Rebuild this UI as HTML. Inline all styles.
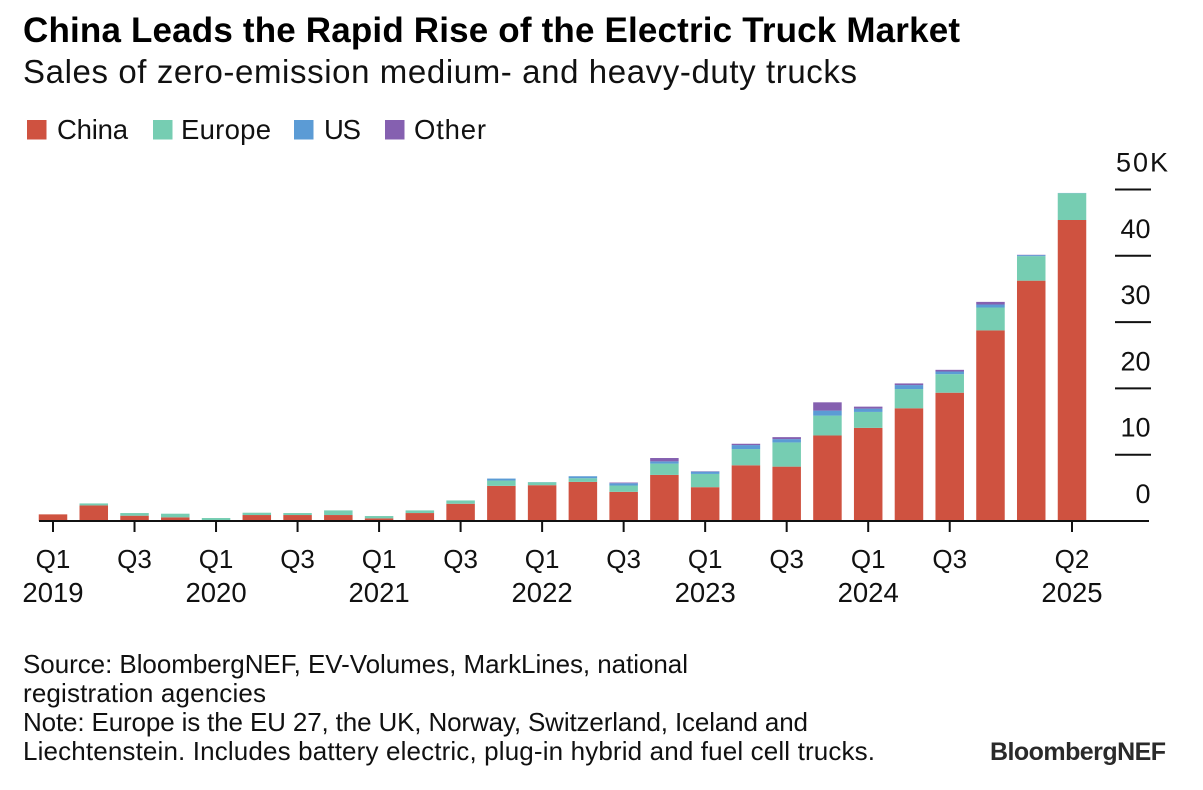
<!DOCTYPE html>
<html lang="en">
<head>
<meta charset="utf-8">
<title>China Leads the Rapid Rise of the Electric Truck Market</title>
<style>
  html, body { margin: 0; padding: 0; background: #fff; }
  body { width: 1203px; height: 790px; overflow: hidden; }
  svg { display: block; font-family: "Liberation Sans", Arial, sans-serif; fill: #111; }
  .title { font-size: 35px; font-weight: 700; fill: #000; }
  .sub { font-size: 33px; }
  .leg { font-size: 27.5px; }
  .foot { font-size: 26px; }
  .tick { font-size: 26px; }
  .logo { font-size: 25px; font-weight: 700; fill: #2a2a2a; }
</style>
</head>
<body>
<svg id="chart" width="1203" height="790" viewBox="0 0 1203 790" xmlns="http://www.w3.org/2000/svg">
  <text class="title" x="23" y="42" textLength="937" lengthAdjust="spacing">China Leads the Rapid Rise of the Electric Truck Market</text>
  <text class="sub" x="23" y="83" textLength="834" lengthAdjust="spacing">Sales of zero-emission medium- and heavy-duty trucks</text>

  <g>
    <g>
      <rect x="27" y="120" width="19.5" height="19.5" fill="#cf5240"/>
      <text class="leg" x="57" y="139" textLength="71" lengthAdjust="spacing">China</text>
    </g>
    <g>
      <rect x="153" y="120" width="19.5" height="19.5" fill="#76cdb2"/>
      <text class="leg" x="181" y="139" textLength="90" lengthAdjust="spacing">Europe</text>
    </g>
    <g>
      <rect x="294" y="120" width="19.5" height="19.5" fill="#5b9bd5"/>
      <text class="leg" x="324" y="139" textLength="37" lengthAdjust="spacing">US</text>
    </g>
    <g>
      <rect x="385" y="120" width="19.5" height="19.5" fill="#8560b0"/>
      <text class="leg" x="414" y="139" textLength="72" lengthAdjust="spacing">Other</text>
    </g>
  </g>

  <g id="bars"></g>
  <g id="y-axis"></g>
  <g id="x-axis"></g>

  <g>
    <text class="foot" x="23" y="673" textLength="665" lengthAdjust="spacing">Source: BloombergNEF, EV-Volumes, MarkLines, national</text>
    <text class="foot" x="23" y="702" textLength="243" lengthAdjust="spacing">registration agencies</text>
    <text class="foot" x="23" y="731" textLength="785" lengthAdjust="spacing">Note: Europe is the EU 27, the UK, Norway, Switzerland, Iceland and</text>
    <text class="foot" x="23" y="760" textLength="852" lengthAdjust="spacing">Liechtenstein. Includes battery electric, plug-in hybrid and fuel cell trucks.</text>
  </g>
  <text class="logo" x="990" y="760" textLength="176" lengthAdjust="spacing">BloombergNEF</text>
</svg>

<script>
const quarters = ["2019Q1","2019Q2","2019Q3","2019Q4","2020Q1","2020Q2","2020Q3","2020Q4","2021Q1","2021Q2","2021Q3","2021Q4","2022Q1","2022Q2","2022Q3","2022Q4","2023Q1","2023Q2","2023Q3","2023Q4","2024Q1","2024Q2","2024Q3","2024Q4","2025Q1","2025Q2"];
const china  = [1.0,2.35,0.8,0.55,0.1,0.9,0.9,0.9,0.4,1.2,2.6,5.3,5.4,5.9,4.4,6.95,5.1,8.4,8.2,12.9,14.05,17.0,19.35,28.75,36.25,45.4];
const europe = [0,0.3,0.4,0.55,0.35,0.35,0.3,0.7,0.35,0.4,0.5,0.8,0.45,0.55,0.95,1.7,2.0,2.45,3.65,3.0,2.4,2.9,2.8,3.45,3.7,4.05];
const us     = [0,0,0,0,0,0,0,0,0,0,0,0.3,0.02,0.3,0.35,0.35,0.35,0.6,0.5,0.75,0.5,0.6,0.4,0.45,0.15,0.03];
const other  = [0,0,0,0,0,0,0,0,0,0,0,0,0,0,0.1,0.5,0.05,0.2,0.3,1.25,0.3,0.25,0.25,0.4,0.05,0];
const yTickValues = [0,10,20,30,40,50];
const yTickLabels = ["0","10","20","30","40","50K"];
const xTickQuarters = ["2019Q1","2019Q3","2020Q1","2020Q3","2021Q1","2021Q3","2022Q1","2022Q3","2023Q1","2023Q3","2024Q1","2024Q3","2025Q2"];
const xTickLabels = ["Q1","Q3","Q1","Q3","Q1","Q3","Q1","Q3","Q1","Q3","Q1","Q3","Q2"];
const yearQuarters = ["2019Q1","2020Q1","2021Q1","2022Q1","2023Q1","2024Q1","2025Q2"];
const yearLabels = ["2019","2020","2021","2022","2023","2024","2025"];

const NS = "http://www.w3.org/2000/svg";
const xScale = function (q) { return 53 + quarters.indexOf(q) * 40.76; };
const yScale = function (v) { return 521 - v * 6.63; };
const barWidth = 28.5;

const barsG = document.getElementById("bars");
const yG = document.getElementById("y-axis");
const xG = document.getElementById("x-axis");

function seriesBars(values, color, below, seriesName) {
  values.forEach(function (v, i) {
    if (v <= 0) return;
    const base = below ? below[i] : 0;
    const r = document.createElementNS(NS, "rect");
    r.setAttribute("x", xScale(quarters[i]) - barWidth / 2);
    r.setAttribute("y", yScale(base + v));
    r.setAttribute("width", barWidth);
    r.setAttribute("height", yScale(base) - yScale(base + v));
    r.setAttribute("fill", color);
    
    
    barsG.appendChild(r);
  });
}

const afterChina = china.slice();
const afterEurope = china.map(function (v, i) { return v + europe[i]; });
const afterUs = afterEurope.map(function (v, i) { return v + us[i]; });
seriesBars(china, "#cf5240", null, "china");
seriesBars(europe, "#76cdb2", afterChina, "europe");
seriesBars(us, "#5b9bd5", afterEurope, "us");
seriesBars(other, "#8560b0", afterUs, "other");

function makeLine(x1, y1, x2, y2) {
  const l = document.createElementNS(NS, "line");
  l.setAttribute("x1", x1);
  l.setAttribute("y1", y1);
  l.setAttribute("x2", x2);
  l.setAttribute("y2", y2);
  l.setAttribute("stroke", "#111");
  l.setAttribute("stroke-width", "2");
  return l;
}

function makeText(str, x, y, anchor) {
  const t = document.createElementNS(NS, "text");
  t.setAttribute("x", x);
  t.setAttribute("y", y);
  t.setAttribute("class", "tick");
  t.setAttribute("text-anchor", anchor);
  t.textContent = str;
  return t;
}

yTickValues.forEach(function (v, i) {
  if (v > 0) {
    const g = makeLine(1115, yScale(v), 1151, yScale(v));
    
    
    yG.appendChild(g);
  }
  const isTop = i === yTickValues.length - 1;
  const label = makeText(yTickLabels[i], isTop ? 1116 : 1150.5, yScale(v) - 18, isTop ? "start" : "end");
  
  
  label.setAttribute("style", "font-size:27px");
  if (isTop) {
    label.setAttribute("textLength", "52");
    label.setAttribute("lengthAdjust", "spacing");
  }
  yG.appendChild(label);
});

const axisLine = makeLine(39, 521, 1149, 521);


xG.appendChild(axisLine);

xTickQuarters.forEach(function (q, i) {
  const tick = makeLine(xScale(q), 521, xScale(q), 532);
  
  
  xG.appendChild(tick);
  const label = makeText(xTickLabels[i], xScale(q), 568, "middle");
  
  
  xG.appendChild(label);
});

yearQuarters.forEach(function (q, i) {
  const label = makeText(yearLabels[i], xScale(q), 602, "middle");
  
  
  label.setAttribute("style", "font-size:27.5px");
  xG.appendChild(label);
});
</script>
</body>
</html>
